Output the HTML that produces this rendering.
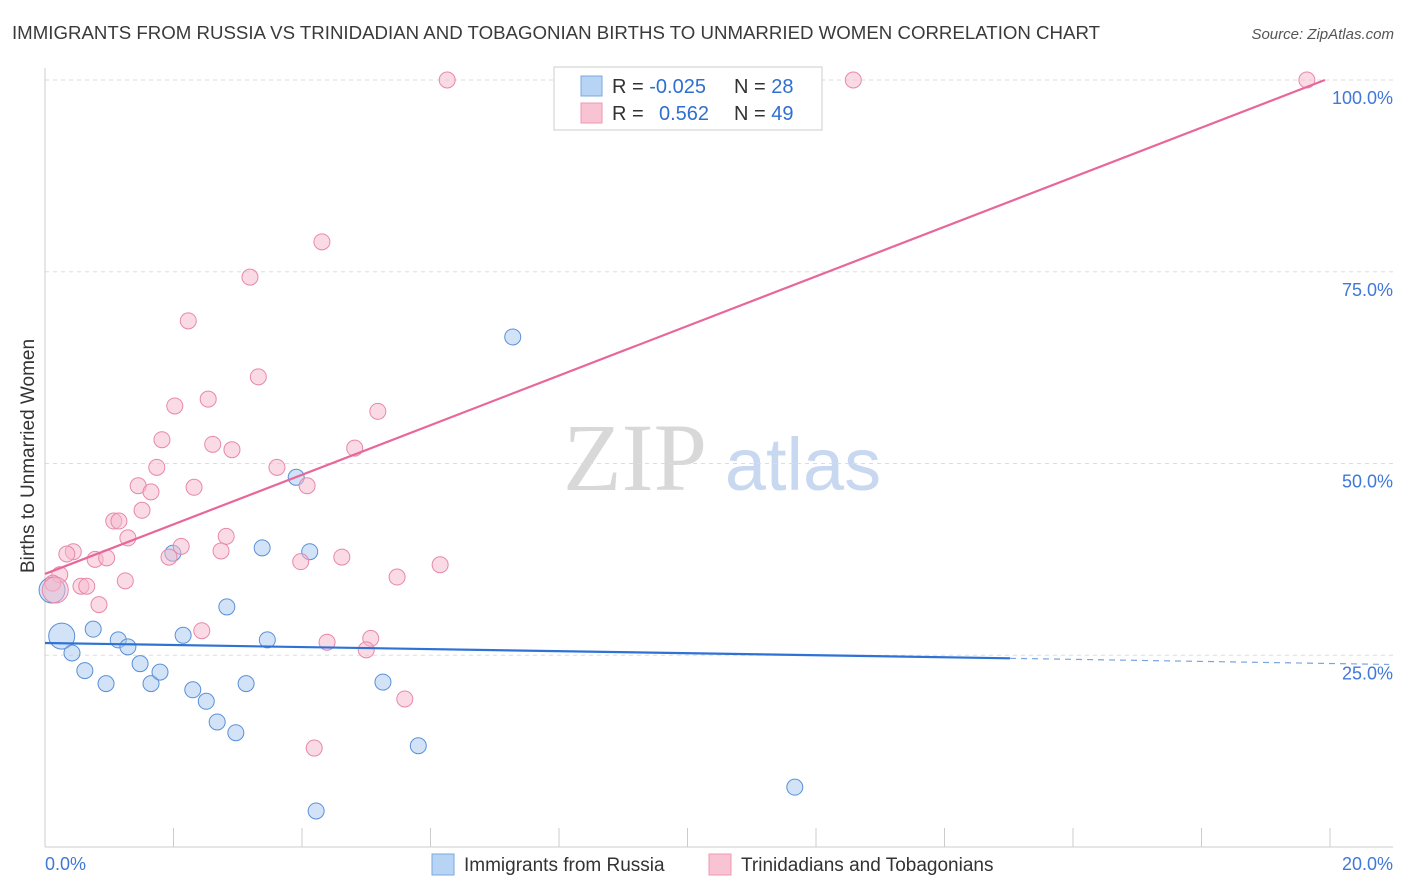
<!DOCTYPE html>
<html><head><meta charset="utf-8"><style>
body{margin:0;background:#fff;width:1406px;height:892px;overflow:hidden;font-family:"Liberation Sans",sans-serif;}
svg{display:block}
</style></head><body>
<svg id="chart" width="1406" height="892" xmlns="http://www.w3.org/2000/svg">
<text x="12" y="39" font-size="18" fill="#3a3a3a" textLength="1088" lengthAdjust="spacingAndGlyphs">IMMIGRANTS FROM RUSSIA VS TRINIDADIAN AND TOBAGONIAN BIRTHS TO UNMARRIED WOMEN CORRELATION CHART</text>
<text x="1394" y="39" font-size="15" font-style="italic" fill="#555" text-anchor="end">Source: ZipAtlas.com</text>
<g>
<text x="635" y="490" font-size="96" font-family="Liberation Serif,serif" fill="#d8d8d8" text-anchor="middle">ZIP</text>
<text x="803" y="490" font-size="74" fill="#c8d8f0" text-anchor="middle">atlas</text>
</g>
<g id="grid"></g>
<g id="axes"></g>
<g id="marks"></g>
<text transform="translate(34,456) rotate(-90)" font-size="19" fill="#333" text-anchor="middle">Births to Unmarried Women</text>
<g>
<rect x="554" y="67" width="268" height="63" fill="#fff" stroke="#ccc"/>
<rect x="581" y="76" width="21" height="20" fill="#b8d4f4" stroke="#7aa8e0"/>
<rect x="581" y="103" width="21" height="20" fill="#f8c4d4" stroke="#ec9ab5"/>
<text x="612" y="93" font-size="20" fill="#333">R = <tspan fill="#2f6fd0">-0.025</tspan><tspan x="734">N = </tspan><tspan fill="#2f6fd0">28</tspan></text>
<text x="612" y="120" font-size="20" fill="#333">R = <tspan x="659" fill="#2f6fd0">0.562</tspan><tspan x="734">N = </tspan><tspan fill="#2f6fd0">49</tspan></text>
</g>
<g>
<rect x="432" y="854" width="22" height="21" fill="#b8d4f4" stroke="#7aa8e0"/>
<text x="464" y="871" font-size="19" fill="#333">Immigrants from Russia</text>
<rect x="709" y="854" width="22" height="21" fill="#f8c4d4" stroke="#ec9ab5"/>
<text x="741" y="871" font-size="19" fill="#333">Trinidadians and Tobagonians</text>
</g>
</svg>
<script>
const xTickLabels=["0.0%","20.0%"];
const yTicks=[25,50,75,100];
const yTickLabels=["25.0%","50.0%","75.0%","100.0%"];
const blueX=[0.11,0.26,0.42,0.62,0.75,0.95,1.14,1.29,1.48,1.65,1.79,1.99,2.15,2.30,2.51,2.68,2.83,2.97,3.13,3.38,3.46,3.91,4.12,4.22,5.26,5.81,7.28,11.67];
const blueY=[33.5,27.5,25.3,23.0,28.4,21.3,27.0,26.1,23.9,21.3,22.8,38.3,27.6,20.5,19.0,16.3,31.3,14.9,21.3,39.0,27.0,48.2,38.5,4.7,21.5,13.2,66.5,7.8];
const pinkX=[6.26,12.58,19.64,4.31,3.19,2.23,3.32,2.54,2.02,5.18,1.82,2.61,2.91,4.82,1.74,3.61,1.45,2.32,1.65,4.08,1.51,1.07,1.15,2.82,1.29,2.12,0.44,0.34,2.74,0.78,0.96,1.93,3.98,4.62,6.15,5.48,0.23,1.25,0.12,0.56,0.65,0.16,0.84,2.44,4.39,5.07,5.00,5.60,4.19];
const pinkY=[100,100,100,78.9,74.3,68.6,61.3,58.4,57.5,56.8,53.1,52.5,51.8,52.0,49.5,49.5,47.1,46.9,46.3,47.1,43.9,42.5,42.5,40.5,40.3,39.2,38.5,38.2,38.6,37.5,37.7,37.8,37.2,37.8,36.8,35.2,35.5,34.7,34.4,34.0,34.0,33.5,31.6,28.2,26.7,27.2,25.7,19.3,12.9];
const pinkLine=[0,35.6,19.92,100];
const blueLine=[0,26.6,15.02,24.6,20.92,23.8];
const NS="http://www.w3.org/2000/svg";
const sx=v=>45+v/20*1285, sy=v=>847-v/100*767;
function mk(tag,attrs,parent){const e=document.createElementNS(NS,tag);for(const k in attrs)e.setAttribute(k,attrs[k]);parent.appendChild(e);return e;}
const grid=document.getElementById('grid'),axes=document.getElementById('axes'),marks=document.getElementById('marks');
yTicks.forEach((t,i)=>{
 const l=mk('line',{x1:45,x2:1393,y1:sy(t),y2:sy(t),stroke:'#ddd','stroke-dasharray':'4,4'},grid);
 
 
 const tx=mk('text',{x:1393,y:sy(t)+24,'font-size':18,fill:'#3f78d8','text-anchor':'end'},axes);
 tx.textContent=yTickLabels[i];
 
 
});
const ax=mk('line',{x1:45,x2:45,y1:68,y2:847,stroke:'#ccc'},axes);


const bx=mk('line',{x1:45,x2:1393,y1:847,y2:847,stroke:'#ccc'},axes);


for(let i=0;i<=10;i++){
 const t=mk('line',{x1:sx(i*2),x2:sx(i*2),y1:828,y2:847,stroke:'#ccc'},axes);
 
 
}
[[0,'start',45],[20,'end',1393]].forEach((a,i)=>{
 const t=mk('text',{x:a[2],y:870,'font-size':18,fill:'#3f78d8','text-anchor':a[1]},axes);
 t.textContent=xTickLabels[i];
 
 
});
function dot(x,y,big,fill,stroke,name){
 const c=mk('circle',{cx:sx(x),cy:sy(y),r:big?13:8,fill:fill,stroke:stroke,'stroke-width':1,'fill-opacity':0.5},marks);
 
 
}
blueX.forEach((x,i)=>dot(x,blueY[i],i<2,'#a8c8f0','#5a90d8','point-russia'));
pinkX.forEach((x,i)=>dot(x,pinkY[i],i==41,'#f5b8cc','#e888a8','point-trinidad'));
const pl=mk('line',{x1:sx(pinkLine[0]),y1:sy(pinkLine[1]),x2:sx(pinkLine[2]),y2:sy(pinkLine[3]),stroke:'#e8679a','stroke-width':2.2},marks);


const bl=mk('line',{x1:sx(blueLine[0]),y1:sy(blueLine[1]),x2:sx(blueLine[2]),y2:sy(blueLine[3]),stroke:'#2f72d6','stroke-width':2.2},marks);


const bd=mk('line',{x1:sx(blueLine[2]),y1:sy(blueLine[3]),x2:sx(blueLine[4]),y2:sy(blueLine[5]),stroke:'#7aa4e0','stroke-width':1.2,'stroke-dasharray':'6,5'},marks);


</script>
</body></html>
